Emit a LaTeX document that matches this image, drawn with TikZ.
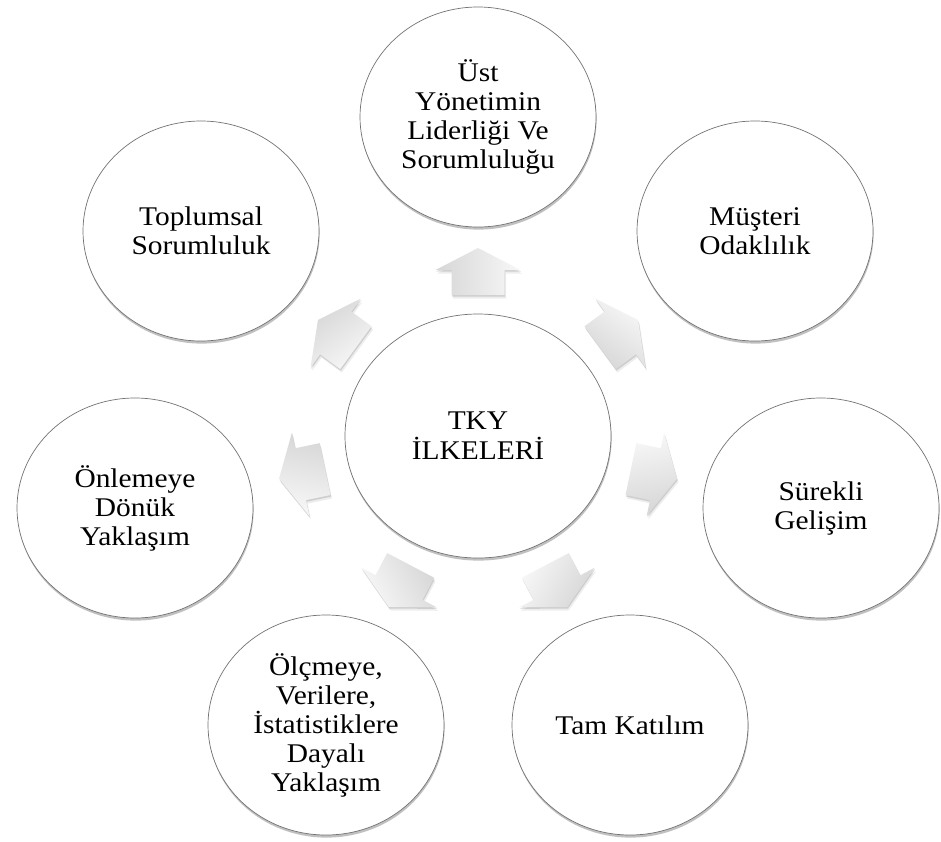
\documentclass[tikz,border=0pt]{standalone}
\usepackage{fontspec}
\setmainfont{Liberation Serif}[FakeStretch=1.09]
\usetikzlibrary{shapes.geometric,shadows,calc}
\newcommand\blockarr[3]{%
  \coordinate (#1) at #2;
  \begin{scope}[shift={($(#1)+(1.5,3.5)$)},rotate=-#3]
    \fill[arrshadow,opacity=0.07] (-25,-26.5) -- (0,-26.5) -- (0,-42.5) -- (22,0) -- (0,42.5) -- (0,26.5) -- (-25,26.5) -- cycle;
  \end{scope}
  \begin{scope}[shift={($(#1)+(0.6,1.6)$)},rotate=-#3]
    \fill[arrshadow,opacity=0.13] (-25,-26.5) -- (0,-26.5) -- (0,-42.5) -- (22,0) -- (0,42.5) -- (0,26.5) -- (-25,26.5) -- cycle;
  \end{scope}
  \begin{scope}[shift={(#1)},rotate=-#3]
    \path[arrbody,shading angle=#3] (-25,-26.5) -- (0,-26.5) -- (0,-42.5) -- (22,0) -- (0,42.5) -- (0,26.5) -- (-25,26.5) -- cycle;
  \end{scope}}
\begin{document}
\begin{tikzpicture}[x=1pt,y=-1pt,
  arrshadow/.style={black},
  arrbody/.style={top color=black!3,bottom color=black!16},
  outer/.style={ellipse,draw=black!55,line width=0.7pt,fill=white,
    minimum width=236pt,minimum height=220pt,inner sep=0pt,align=center,
    font=\fontsize{27}{29}\selectfont,
    drop shadow={shadow xshift=0.6pt,shadow yshift=-2.6pt,opacity=0.35,fill=black!70}},
  hub/.style={outer,minimum width=266pt,minimum height=244pt,
    font=\fontsize{27}{30}\selectfont}]
\useasboundingbox (0,0) rectangle (941,841);
\fill[white] (0,0) rectangle (941,841);
% arrows
\blockarr{a0}{(478,270)}{-90}
\blockarr{a1}{(620.3,332.9)}{-36.2}
\blockarr{a2}{(655.4,474.2)}{11.8}
\blockarr{a3}{(557.0,587.5)}{62.3}
\blockarr{a4}{(399.0,587.5)}{117.7}
\blockarr{a5}{(300.6,474.2)}{168.2}
\blockarr{a6}{(335.7,332.9)}{-143.8}
% circles
\node[hub] (hubc) at (478,436) {TKY\\İLKELERİ};
\node[outer] (c0) at (478,117) {Üst\\Yönetimin\\Liderliği Ve\\Sorumluluğu};
\node[outer] (c1) at (755,231) {Müşteri\\Odaklılık};
\node[outer] (c2) at (821,508) {Sürekli\\Gelişim};
\node[outer] (c3) at (630,725) {Tam Katılım};
\node[outer] (c4) at (326,725) {Ölçmeye,\\Verilere,\\İstatistiklere\\Dayalı\\Yaklaşım};
\node[outer] (c5) at (135,508) {Önlemeye\\Dönük\\Yaklaşım};
\node[outer] (c6) at (201,231) {Toplumsal\\Sorumluluk};
\end{tikzpicture}
\end{document}
